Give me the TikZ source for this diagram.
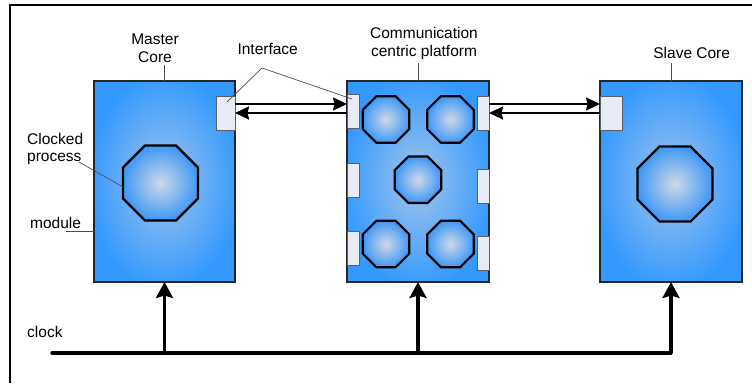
\documentclass[tikz,border=0pt]{standalone}
\usepackage{fontspec}
\setmainfont{Liberation Sans}
\usetikzlibrary{shapes.geometric,arrows.meta}

\definecolor{boxout}{HTML}{3399FF}
\definecolor{boxin}{HTML}{A2C4EA}
\definecolor{octin}{HTML}{CFD8E8}
\definecolor{octout}{HTML}{3A96F6}
\definecolor{portfill}{HTML}{E6EBF5}
\definecolor{portline}{HTML}{5A5F66}
\definecolor{leadcol}{HTML}{4D4D4D}

% radial fills for the modules and the clocked processes
\pgfdeclareradialshading{coreshade}{\pgfpoint{0bp}{0bp}}{color(0bp)=(boxin); color(27bp)=(boxout); color(50bp)=(boxout)}
\pgfdeclareradialshading{procshade}{\pgfpoint{0bp}{0bp}}{color(0bp)=(octin); color(26bp)=(octout); color(50bp)=(octout)}

\begin{document}
\begin{tikzpicture}[x=1pt,y=-1pt,
  frame/.style={line width=1.8pt, line join=miter},
  core/.style={draw=black!85, line width=1.4pt, shading=coreshade, rectangle,
    minimum width=141pt, minimum height=201pt, inner sep=0pt, outer sep=0pt},
  port/.style={draw=portline, line width=0.8pt, fill=portfill, rectangle,
    minimum height=34pt, inner sep=0pt, outer sep=0pt},
  proc/.style={draw=black, line width=2.2pt, shading=procshade,
    regular polygon, regular polygon sides=8, inner sep=0pt, outer sep=0pt},
  link/.style={line width=2pt, -{Stealth[length=14pt,width=13pt,inset=1.5pt]}},
  clk/.style={line width=3.2pt, line cap=round, line join=round},
  clkarr/.style={line width=3.2pt, -{Stealth[length=16pt,width=17pt,inset=2.5pt]}},
  leader/.style={draw=leadcol, line width=0.7pt},
  lbl/.style={inner sep=0pt, font=\fontsize{15.5}{17.5}\selectfont}]

\useasboundingbox (0,0) rectangle (752,383);

% outer frame
\draw[frame] (10,383) -- (10,5) -- (752,5);

% modules
\node[core] (master) at (164.5,181.5) {};
\node[core, minimum width=142pt] (platform) at (418,181.5) {};
\node[core, minimum width=142pt] (slave) at (671,181.5) {};

% interfaces
\node[port, minimum width=19pt] (mif) at (225.5,113) {};
\node[port, minimum width=12pt] (cl1) at (353,111.5) {};
\node[port, minimum width=12pt] (cl2) at (353,180.5) {};
\node[port, minimum width=12pt] (cl3) at (353,248.5) {};
\node[port, minimum width=12pt] (cr1) at (483,113) {};
\node[port, minimum width=12pt] (cr2) at (483,186) {};
\node[port, minimum width=12pt] (cr3) at (483,253.5) {};
\node[port, minimum width=22pt] (sif) at (611,113) {};

% clocked processes
\node[proc, minimum size=81.2pt] (mproc) at (160.5,183) {};
\node[proc, minimum size=50.3pt] (p1) at (386,119.5) {};
\node[proc, minimum size=50.3pt] (p2) at (450.5,119.5) {};
\node[proc, minimum size=50.3pt] (p3) at (418,179.7) {};
\node[proc, minimum size=50.3pt] (p4) at (386,244) {};
\node[proc, minimum size=50.3pt] (p5) at (450.5,244) {};
\node[proc, minimum size=81.2pt] (sproc) at (675,184) {};

% links between interfaces
\draw[link] ([yshift=9pt]mif.east) coordinate (a1) -- (a1 -| cl1.west);
\draw[link] (cl1.west |- mif.east) -- (mif.east);
\draw[link] ([yshift=9pt]cr1.east) coordinate (a2) -- (a2 -| sif.west);
\draw[link] (sif.west |- cr1.east) -- (cr1.east);

% clock distribution
\coordinate (clk0) at (52,353);
\draw[clk] (clk0) -- (clk0 -| slave.south);
\draw[clkarr] (clk0 -| slave.south) -- (slave.south);
\draw[clkarr] (clk0 -| master.south) -- (master.south);
\draw[clkarr] (clk0 -| platform.south) -- (platform.south);

% labels
\node[lbl, align=center] (mlbl) at (155,48) {Master\\Core};
\draw[leader] (master.north) -- ++(0,-16);

\node[lbl] (iflbl) at (267.7,49.3) {Interface};
\coordinate (ifk) at (262,68);
\draw[leader] ([shift={(1.5,-11)}]mif.center) -- (ifk) -- ([shift={(-1,-12.5)}]cl1.center);

\node[lbl, align=center] (plbl) at (424,43.5) {Communication\\centric platform};
\draw[leader] (platform.north) -- ++(0,-18);

\node[lbl] (slbl) at (691.7,53.3) {Slave Core};
\draw[leader] (slave.north) -- ++(0,-18);

\node[lbl, align=left, anchor=west] (cplbl) at (27,148.8) {Clocked\\process};
\coordinate (cpk) at (79,162);
\draw[leader] (cpk) -- ([yshift=-4pt]mproc.west);

\node[lbl, anchor=west] (modlbl) at (30,223) {module};
\coordinate (modk) at (66,231);
\draw[leader] (modk) -- (modk -| master.west);

\node[lbl, anchor=west] (clklbl) at (27,332) {clock};
\end{tikzpicture}
\end{document}
